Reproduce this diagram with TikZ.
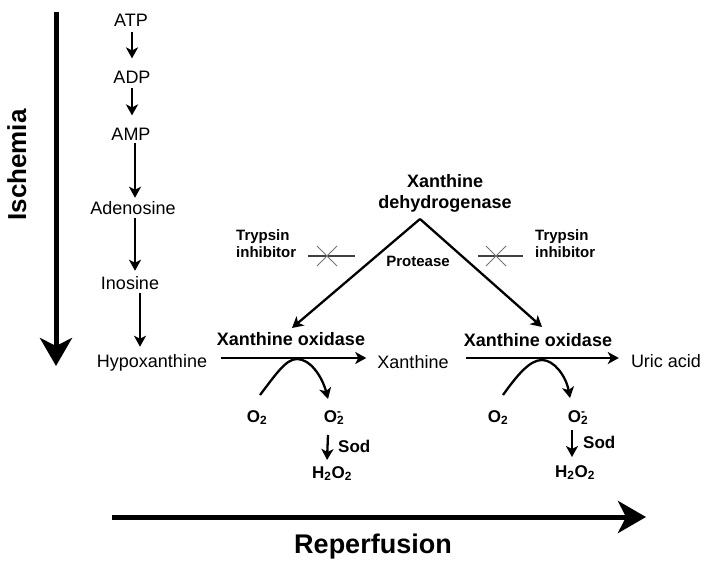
\documentclass[tikz,border=0pt]{standalone}
\usepackage{fontspec}
\setmainfont{Liberation Sans}
\usetikzlibrary{arrows.meta}
\newcommand{\oxsub}{O\textsubscript{2}}
\newcommand{\oxrad}{O\rlap{\textsuperscript{-}}\textsubscript{2}}
\begin{document}
\begin{tikzpicture}[x=1pt,y=-1pt,
  lbl/.style={inner sep=0pt, anchor=base, font=\fontsize{18}{21}\selectfont},
  blbl/.style={inner sep=0pt, anchor=base, font=\fontsize{18}{21}\selectfont\bfseries},
  oxy/.style={inner sep=0pt, anchor=base, font=\fontsize{17}{20}\selectfont\bfseries},
  sm/.style={inner sep=0pt, font=\fontsize{15}{17}\selectfont\bfseries, align=left},
  arr/.style={line width=2.3pt, -{Stealth[length=11pt,width=12pt,inset=3pt]}},
  big/.style={line width=5pt, -{Stealth[length=28pt,width=32pt,inset=8pt]}},
  inh/.style={line width=1.3pt, draw=black!75},
  cross/.style={line width=0.9pt, draw=black!55},
]
\useasboundingbox (0,0) rectangle (709,570);

% big axes
\coordinate (isA) at (56,12);
\coordinate (isB) at (56,366);
\draw[big] (isA) -- (isB);
\node[inner sep=0pt, anchor=base, rotate=90, font=\fontsize{26}{28}\selectfont\bfseries] (isch) at (26,165) {Ischemia};

\coordinate (reA) at (112,517);
\coordinate (reB) at (646,517);
\draw[big] (reA) -- (reB);
\node[inner sep=0pt, anchor=base, font=\fontsize{27}{30}\selectfont\bfseries] (rep) at (373,553) {Reperfusion};

% ischemia cascade
\node[lbl] (atp) at (131,27) {ATP};
\node[lbl] (adp) at (132,83) {ADP};
\node[lbl] (amp) at (131,140) {AMP};
\node[lbl] (ade) at (133,214) {Adenosine};
\node[lbl] (ino) at (130,289) {Inosine};
\node[lbl] (hyp) at (152,367) {Hypoxanthine};

\draw[arr] ([xshift=1pt,yshift=-5pt]atp.south) -- ([yshift=12pt]adp.north);
\draw[arr] ([yshift=-5pt]adp.south) -- ([xshift=1pt,yshift=12pt]amp.north);
\draw[arr] ([xshift=4pt,yshift=-3pt]amp.south) -- ([xshift=2pt,yshift=3pt]ade.north);
\draw[arr] ([xshift=2pt,yshift=-4pt]ade.south) -- ([xshift=5pt,yshift=5pt]ino.north);
\draw[arr] ([xshift=10pt,yshift=-4pt]ino.south) -- ([xshift=-12pt,yshift=7pt]hyp.north);

% main reaction line
\node[lbl] (xan) at (413,368) {Xanthine};
\node[lbl] (uric) at (666,367) {Uric acid};
\node[blbl] (xo1) at (291,345) {Xanthine oxidase};
\node[blbl] (xo2) at (538,346) {Xanthine oxidase};

\draw[arr] ([shift={(14,-9)}]hyp.base east) -- ([shift={(-11,-10)}]xan.base west);
\draw[arr] ([shift={(17,-10)}]xan.base east) -- ([shift={(-12,-9)}]uric.base west);

% xanthine dehydrogenase and protease
\node[inner sep=0pt, anchor=north, align=center, font=\fontsize{18}{21}\selectfont\bfseries] (xdh) at (445,174) {Xanthine\\dehydrogenase};
\coordinate (apex) at (420,219);
\coordinate (xoL) at (292,328);
\coordinate (xoR) at (542,327);
\draw[arr] (apex) -- (xoL);
\draw[arr] (apex) -- (xoR);
\node[inner sep=0pt, anchor=base, font=\fontsize{15}{17}\selectfont\bfseries] (prot) at (418,266) {Protease};

% trypsin inhibitors
\node[sm, anchor=base west] (tiL) at (236,257) {Trypsin\\inhibitor};
\node[sm, anchor=base west] (tiR) at (535,257) {Trypsin\\inhibitor};
\draw[inh] (308,256) -- (355,256);
\draw[cross] (317,246) -- (337,266);
\draw[cross] (317,266) -- (337,246);
\draw[inh] (478,256) -- (523,256);
\draw[cross] (486,246) -- (506,266);
\draw[cross] (486,266) -- (506,246);

% oxygen branches, left
\node[oxy] (o2a) at (257,422) {\oxsub};
\node[oxy] (o2ma) at (334,422) {\oxrad};
\node[oxy] (h2a) at (332,478) {H\textsubscript{2}O\textsubscript{2}};
\node[oxy, anchor=base west] (soda) at (338,452) {Sod};
\draw[arr] ([shift={(3,-27)}]o2a.base) .. controls (276,374) and (286,359) .. (297,359)
  .. controls (310,359) and (322,376) .. ([shift={(-6,-23)}]o2ma.base);
\draw[arr] ([shift={(-6,13)}]o2ma.base) -- ([shift={(-5,-18)}]h2a.base);

% oxygen branches, right
\node[oxy] (o2b) at (498,422) {\oxsub};
\node[oxy] (o2mb) at (578,422) {\oxrad};
\node[oxy] (h2b) at (575,477) {H\textsubscript{2}O\textsubscript{2}};
\node[oxy, anchor=base west] (sodb) at (583,448) {Sod};
\draw[arr] ([shift={(5,-27)}]o2b.base) .. controls (518,374) and (530,360) .. (542,360)
  .. controls (554,360) and (566,376) .. ([shift={(-8,-24)}]o2mb.base);
\draw[arr] ([shift={(-6,8)}]o2mb.base) -- ([shift={(-3,-20)}]h2b.base);
\end{tikzpicture}
\end{document}
